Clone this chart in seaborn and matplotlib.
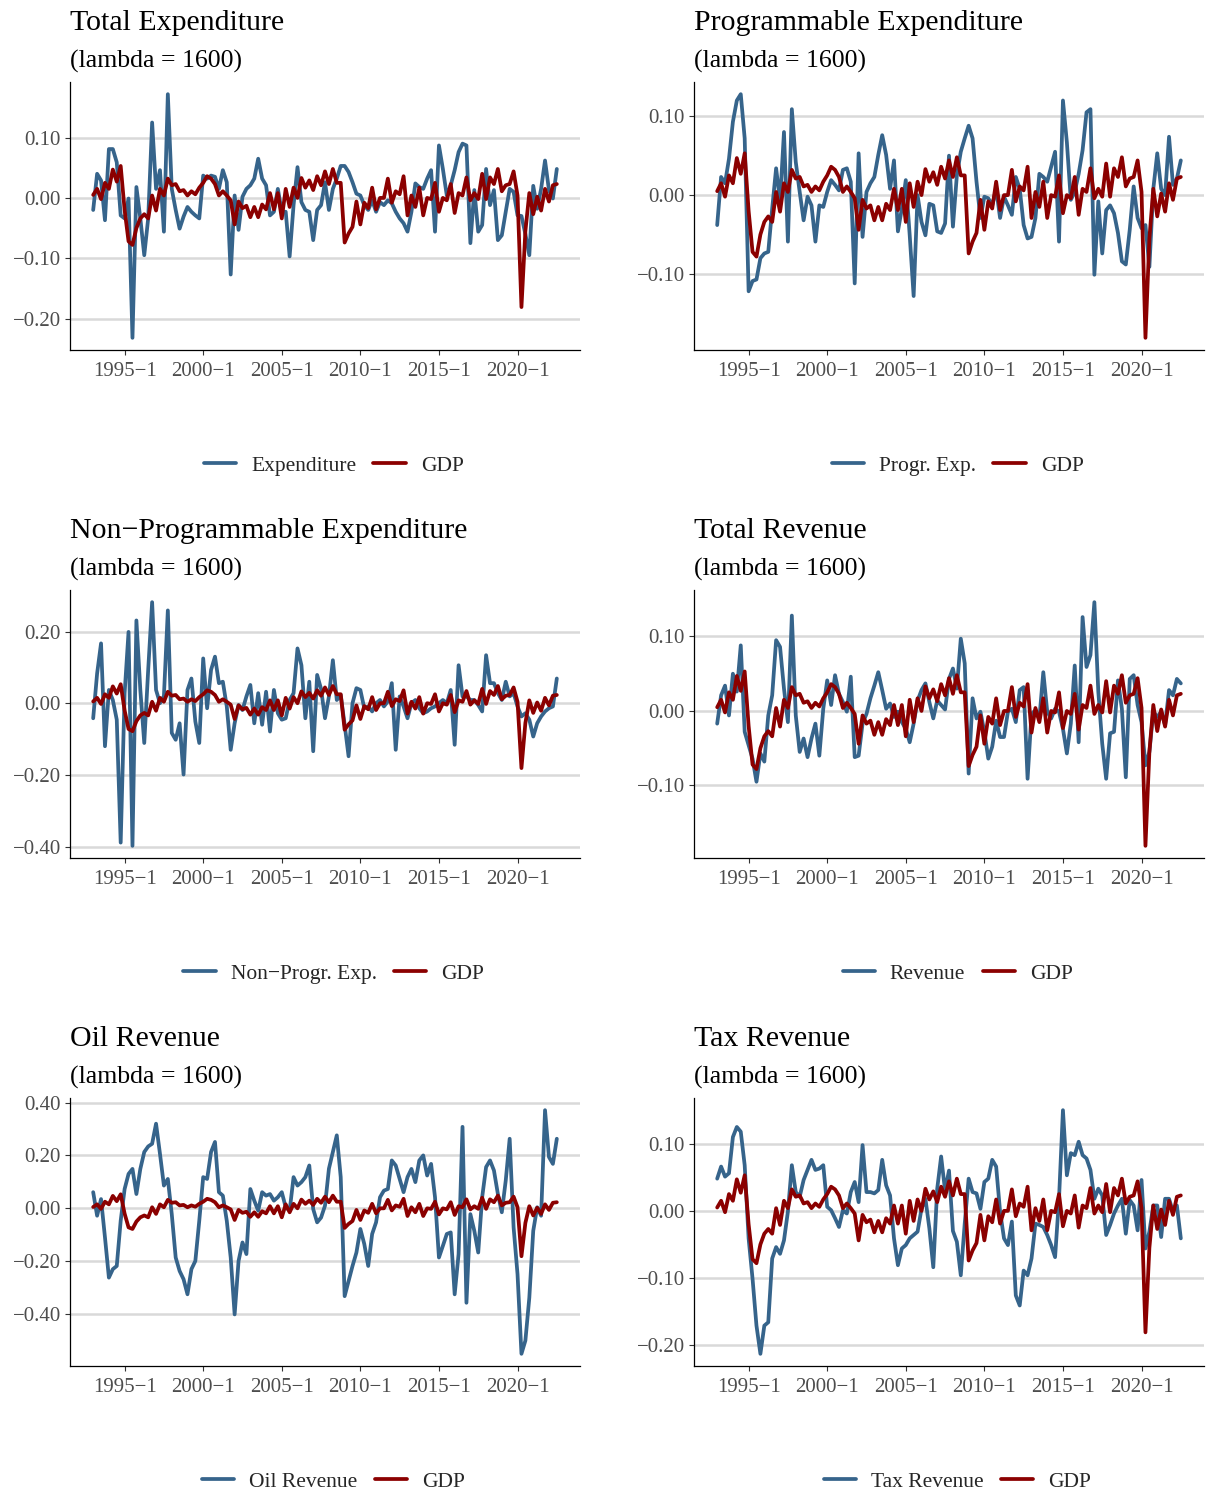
import numpy as np
import pandas as pd
import matplotlib
matplotlib.use("Agg")
import matplotlib.pyplot as plt
from matplotlib.lines import Line2D
from matplotlib.ticker import FixedLocator, FuncFormatter
import seaborn as sns

# ---------------- data (quarterly cycles, 1993Q1 .. 2022Q3) ----------------
start_year = 1993

gdp = [
    0.005, 0.015, -0.002, 0.025, 0.015, 0.047, 0.027, 0.053, -0.020, -0.072,
    -0.078, -0.050, -0.034, -0.027, -0.034, 0.004, -0.021, 0.015, 0.004, 0.032,
    0.021, 0.023, 0.011, 0.013, 0.004, 0.011, 0.006, 0.017, 0.025, 0.036,
    0.032, 0.023, 0.004, 0.011, 0.004, -0.004, -0.044, -0.006, -0.017, -0.013,
    -0.032, -0.015, -0.032, -0.011, -0.019, 0.008, -0.019, 0.008, -0.034, 0.015,
    -0.015, 0.017, 0.000, 0.033, 0.017, 0.029, 0.013, 0.036, 0.021, 0.044,
    0.023, 0.048, 0.025, 0.025, -0.074, -0.059, -0.048, -0.006, -0.044, -0.008,
    -0.017, 0.017, -0.019, 0.000, 0.000, 0.032, -0.008, 0.011, 0.006, 0.036,
    -0.029, 0.004, -0.015, 0.017, -0.029, 0.000, -0.002, 0.025, -0.023, 0.000,
    -0.004, 0.023, -0.025, 0.008, 0.004, 0.034, -0.004, 0.008, -0.002, 0.040,
    -0.002, 0.034, 0.023, 0.048, 0.011, 0.021, 0.023, 0.044, 0.004, -0.181,
    -0.055, 0.008, -0.027, 0.002, -0.021, 0.015, -0.006, 0.021, 0.023,
]

total_exp = [
    -0.020, 0.040, 0.029, -0.037, 0.081, 0.081, 0.059, -0.029, -0.034, -0.001,
    -0.232, 0.018, -0.034, -0.095, -0.034, 0.125, 0.015, 0.046, -0.056, 0.172,
    0.015, -0.020, -0.051, -0.031, -0.015, -0.023, -0.029, -0.034, 0.037, 0.032,
    0.037, 0.035, 0.015, 0.046, 0.026, -0.127, 0.004, -0.053, 0.002, 0.015,
    0.021, 0.032, 0.065, 0.032, 0.021, -0.029, -0.023, 0.015, -0.023, -0.023,
    -0.097, -0.012, 0.051, -0.007, -0.020, -0.023, -0.070, -0.020, -0.012, 0.026,
    -0.020, 0.015, 0.032, 0.053, 0.053, 0.043, 0.026, 0.007, 0.004, -0.012,
    -0.020, -0.004, -0.023, -0.007, -0.012, -0.004, -0.009, -0.023, -0.034, -0.042,
    -0.056, -0.023, 0.024, 0.018, 0.015, 0.032, 0.046, -0.056, 0.087, 0.048,
    0.004, 0.021, 0.046, 0.076, 0.090, 0.087, -0.075, 0.013, -0.056, -0.045,
    0.048, -0.012, 0.013, -0.070, -0.062, -0.023, 0.015, 0.010, -0.029, -0.030,
    -0.060, -0.095, 0.020, -0.018, 0.015, 0.062, 0.013, -0.001, 0.048,
]

progr_exp = [
    -0.038, 0.023, 0.015, 0.046, 0.093, 0.120, 0.128, 0.072, -0.122, -0.109,
    -0.107, -0.080, -0.074, -0.072, -0.017, 0.034, -0.008, 0.080, -0.059, 0.109,
    0.042, 0.004, -0.032, -0.002, -0.013, -0.059, -0.013, -0.015, 0.004, 0.019,
    0.013, 0.006, 0.032, 0.034, 0.017, -0.112, 0.053, -0.053, 0.004, 0.015,
    0.023, 0.051, 0.076, 0.051, 0.008, 0.044, -0.046, -0.017, 0.019, -0.051,
    -0.128, 0.000, -0.034, -0.051, -0.011, -0.013, -0.046, -0.048, -0.036, 0.050,
    -0.040, 0.025, 0.055, 0.072, 0.088, 0.072, 0.017, -0.029, -0.002, -0.004,
    -0.013, 0.008, -0.029, -0.002, -0.013, -0.025, 0.023, 0.008, -0.038, -0.055,
    -0.053, -0.029, 0.027, 0.023, 0.017, 0.036, 0.055, -0.059, 0.120, 0.067,
    -0.006, 0.004, 0.027, 0.057, 0.105, 0.109, -0.101, -0.008, -0.074, -0.019,
    -0.013, -0.023, -0.048, -0.084, -0.088, -0.044, 0.011, -0.029, -0.042, -0.038,
    -0.091, 0.008, 0.053, 0.008, 0.000, 0.074, 0.013, 0.021, 0.044,
]

non_progr_exp = [
    -0.042, 0.083, 0.167, -0.120, 0.037, 0.009, -0.046, -0.389, 0.028, 0.199,
    -0.398, 0.231, 0.037, -0.111, 0.093, 0.282, 0.037, 0.000, 0.020, 0.259,
    -0.083, -0.102, -0.056, -0.199, 0.037, 0.069, -0.051, -0.111, 0.125, -0.014,
    0.093, 0.130, 0.056, 0.060, -0.009, -0.130, -0.056, -0.005, -0.019, 0.019,
    0.051, -0.056, 0.028, -0.060, 0.032, -0.079, 0.037, -0.028, -0.046, -0.042,
    0.009, 0.028, 0.153, 0.106, -0.042, 0.060, -0.134, 0.079, 0.040, -0.042,
    0.019, 0.120, 0.009, 0.023, -0.060, -0.148, 0.000, 0.042, 0.037, -0.014,
    -0.009, -0.023, 0.000, 0.009, -0.009, 0.005, 0.056, -0.130, 0.019, -0.009,
    -0.042, 0.000, 0.009, -0.014, -0.028, -0.023, -0.014, -0.009, 0.000, 0.009,
    0.000, 0.037, -0.116, 0.106, 0.019, 0.019, 0.009, 0.009, -0.005, -0.023,
    0.134, 0.056, 0.056, 0.028, 0.009, 0.060, 0.019, 0.028, -0.009, -0.037,
    -0.028, -0.046, -0.093, -0.056, -0.037, -0.023, -0.014, -0.009, 0.069,
]

total_rev = [
    -0.017, 0.021, 0.034, -0.006, 0.050, 0.026, 0.088, -0.028, -0.046, -0.064,
    -0.095, -0.057, -0.068, -0.006, 0.021, 0.095, 0.086, 0.030, -0.015, 0.128,
    -0.006, -0.055, -0.037, -0.062, -0.037, -0.017, -0.060, 0.003, 0.041, 0.008,
    0.048, 0.023, 0.012, -0.001, 0.046, -0.062, -0.060, -0.017, -0.004, 0.017,
    0.034, 0.052, 0.028, 0.003, 0.010, -0.008, -0.001, -0.015, -0.024, -0.042,
    -0.017, 0.014, 0.028, 0.037, 0.012, -0.010, 0.014, 0.008, 0.002, 0.043,
    0.057, 0.030, 0.097, 0.064, -0.084, 0.017, -0.010, -0.001, -0.028, -0.064,
    -0.048, -0.013, -0.035, -0.035, -0.001, 0.003, -0.015, 0.028, 0.032, -0.091,
    -0.004, 0.001, -0.010, 0.052, -0.001, -0.010, 0.003, -0.001, -0.024, -0.057,
    -0.017, 0.061, -0.042, 0.126, 0.059, 0.075, 0.146, 0.026, -0.044, -0.091,
    -0.030, -0.028, 0.041, 0.003, -0.089, 0.043, 0.048, 0.008, -0.015, -0.073,
    -0.055, -0.001, -0.008, -0.001, -0.019, 0.028, 0.021, 0.043, 0.037,
]

oil_rev = [
    0.061, -0.028, 0.035, -0.110, -0.262, -0.230, -0.218, -0.047, 0.073, 0.130,
    0.149, 0.054, 0.149, 0.213, 0.234, 0.244, 0.320, 0.206, 0.086, 0.111,
    -0.022, -0.186, -0.237, -0.268, -0.325, -0.230, -0.199, -0.047, 0.118, 0.111,
    0.213, 0.251, 0.061, 0.048, -0.047, -0.186, -0.401, -0.199, -0.129, -0.173,
    0.073, 0.029, -0.009, 0.061, 0.048, 0.054, 0.029, 0.042, 0.061, 0.004,
    -0.009, 0.118, 0.086, 0.099, 0.118, 0.162, -0.003, -0.053, -0.035, 0.010,
    0.150, 0.213, 0.276, 0.118, -0.332, -0.275, -0.218, -0.167, -0.078, -0.135,
    -0.218, -0.097, -0.053, 0.042, 0.067, 0.073, 0.181, 0.162, 0.111, 0.061,
    0.118, 0.149, 0.099, 0.181, 0.200, 0.124, 0.168, 0.042, -0.186, -0.142,
    -0.097, -0.091, -0.325, -0.173, 0.308, -0.357, -0.022, -0.085, -0.167, 0.042,
    0.156, 0.181, 0.143, 0.054, -0.015, 0.105, 0.263, -0.072, -0.249, -0.550,
    -0.500, -0.338, -0.085, 0.004, -0.028, 0.371, 0.194, 0.168, 0.263,
]

tax_rev = [
    0.048, 0.066, 0.051, 0.056, 0.110, 0.125, 0.118, 0.068, -0.041, -0.101,
    -0.171, -0.213, -0.171, -0.166, -0.071, -0.054, -0.064, -0.044, -0.001, 0.068,
    0.028, 0.021, 0.046, 0.061, 0.076, 0.061, 0.063, 0.068, 0.006, 0.001,
    -0.011, -0.024, 0.001, -0.004, 0.028, 0.043, 0.013, 0.098, 0.028, 0.028,
    0.026, 0.031, 0.076, 0.038, 0.023, -0.041, -0.081, -0.056, -0.051, -0.041,
    -0.036, -0.031, 0.003, 0.018, -0.026, -0.084, 0.033, 0.081, 0.030, 0.060,
    -0.030, -0.046, -0.096, -0.019, 0.048, 0.028, 0.026, 0.003, 0.043, 0.048,
    0.076, 0.066, -0.001, -0.041, -0.051, -0.016, -0.126, -0.141, -0.089, -0.096,
    -0.071, -0.019, -0.021, -0.024, -0.036, -0.051, -0.069, 0.018, 0.150, 0.053,
    0.086, 0.083, 0.103, 0.083, 0.078, 0.061, 0.018, 0.033, 0.023, -0.036,
    -0.021, -0.004, 0.008, 0.018, -0.034, 0.016, 0.008, -0.029, 0.046, -0.056,
    -0.031, 0.008, 0.008, -0.039, 0.018, 0.018, -0.001, 0.008, -0.041,
]

titles = ["Total Expenditure", "Programmable Expenditure",
          "Non\u2212Programmable Expenditure", "Total Revenue",
          "Oil Revenue", "Tax Revenue"]
series_labels = ["Expenditure", "Progr. Exp.", "Non\u2212Progr. Exp.",
                 "Revenue", "Oil Revenue", "Tax Revenue"]
series_values = [total_exp, progr_exp, non_progr_exp, total_rev, oil_rev, tax_rev]
y_ticks_list = [
    [-0.20, -0.10, 0.00, 0.10],
    [-0.10, 0.00, 0.10],
    [-0.40, -0.20, 0.00, 0.20],
    [-0.10, 0.00, 0.10],
    [-0.40, -0.20, 0.00, 0.20, 0.40],
    [-0.20, -0.10, 0.00, 0.10],
]
x_tick_years = [1995, 2000, 2005, 2010, 2015, 2020]
x_tick_labels = [f"{y}\u22121" for y in x_tick_years]
subtitle = "(lambda = 1600)"

# ---------------- styling ----------------
sns.set_theme(style="white")
plt.rcParams["font.family"] = ["Liberation Serif", "DejaVu Serif"]
plt.rcParams["axes.unicode_minus"] = True

BLUE = "#36648B"
RED = "#8B0000"
LW = 2.7

W, H = 1206, 1490
fig = plt.figure(figsize=(W / 100, H / 100), dpi=100)
fig.patch.set_facecolor("white")

col_left = [70, 694]
row_top = [82, 590, 1098]
ax_w, ax_h = 510, 268

n = len(gdp)
t = start_year + np.arange(n) / 4.0
x_lo = t[0] - 0.05 * (t[-1] - t[0])
x_hi = t[-1] + 0.05 * (t[-1] - t[0])

fmt = FuncFormatter(lambda v, _: f"{v:.2f}".replace("-", "\u2212"))

for k in range(6):
    r, c = divmod(k, 2)
    left, top = col_left[c], row_top[r]
    ax = fig.add_axes([left / W, 1 - (top + ax_h) / H, ax_w / W, ax_h / H])

    lab = series_labels[k]
    df = pd.DataFrame({
        "t": np.concatenate([t, t]),
        "value": np.concatenate([np.array(series_values[k]), np.array(gdp)]),
        "series": [lab] * n + ["GDP"] * n,
    })
    sns.lineplot(data=df, x="t", y="value", hue="series",
                 hue_order=[lab, "GDP"], palette={lab: BLUE, "GDP": RED},
                 linewidth=LW, ax=ax, legend=False, sort=False)

    vals = np.concatenate([series_values[k], gdp])
    lo, hi = vals.min(), vals.max()
    pad = 0.05 * (hi - lo)
    ax.set_ylim(lo - pad, hi + pad)
    ax.set_xlim(x_lo, x_hi)

    ax.yaxis.set_major_locator(FixedLocator(y_ticks_list[k]))
    ax.yaxis.set_major_formatter(fmt)
    ax.set_xticks(x_tick_years)
    ax.set_xticklabels(x_tick_labels)
    ax.set_xlabel("")
    ax.set_ylabel("")

    ax.yaxis.grid(True, color="#D9D9D9", linewidth=1.8)
    ax.xaxis.grid(False)
    ax.set_axisbelow(True)
    for s in ["top", "right"]:
        ax.spines[s].set_visible(False)
    for s in ["left", "bottom"]:
        ax.spines[s].set_color("black")
        ax.spines[s].set_linewidth(0.9)
    ax.tick_params(axis="both", which="major", direction="out", length=3.5,
                   width=0.8, color="#333333", labelcolor="#4D4D4D",
                   labelsize=15, pad=3, left=True, bottom=True)
    ax.tick_params(axis="x", pad=5)
    ax.set_facecolor("white")

    # titles
    fig.text(left / W, 1 - (top - 59) / H, titles[k], fontsize=21.5,
             ha="left", va="center", color="black")
    fig.text(left / W, 1 - (top - 21) / H, subtitle, fontsize=18.5,
             ha="left", va="center", color="black")

    handles = [Line2D([0], [0], color=BLUE, lw=LW),
               Line2D([0], [0], color=RED, lw=LW)]
    ax.legend(handles, [lab, "GDP"], loc="center",
              bbox_to_anchor=(0.517, -115.5 / ax_h), ncol=2, frameon=False,
              fontsize=15.5, handlelength=1.5, handletextpad=0.7,
              columnspacing=0.8, borderaxespad=0)

fig.savefig("out.png", dpi=100, facecolor="white")
